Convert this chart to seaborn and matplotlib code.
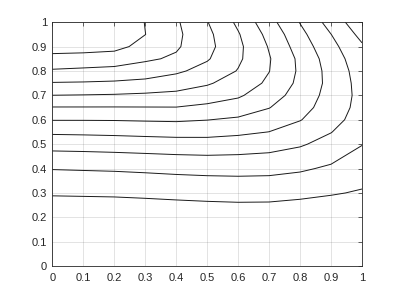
import numpy as np
import matplotlib
matplotlib.use("Agg")
import matplotlib.pyplot as plt
import seaborn as sns

# grid coordinates of the sampled field
x_grid = [0.0, 0.1, 0.2, 0.3, 0.4, 0.5, 0.6, 0.7, 0.8, 0.9, 1.0]
y_grid = [0.0, 0.1, 0.2, 0.3, 0.4, 0.5, 0.55, 0.6, 0.65, 0.7, 0.75, 0.8, 0.85, 0.9, 0.95, 1.0]

# field values (estimated), one list per row of y
z_y000 = [-1.50, -1.50, -1.48, -1.45, -1.40, -1.35, -1.32, -1.32, -1.40, -1.52, -1.70]
z_y010 = [-0.64, -0.63, -0.61, -0.57, -0.52, -0.47, -0.43, -0.44, -0.52, -0.65, -0.85]
z_y020 = [0.26, 0.27, 0.29, 0.33, 0.38, 0.43, 0.47, 0.46, 0.375, 0.25, 0.05]
z_y030 = [1.10, 1.12, 1.14, 1.19, 1.25, 1.30, 1.33, 1.32, 1.22, 1.08, 0.91]
z_y040 = [2.04, 2.075, 2.11, 2.17, 2.24, 2.29, 2.31, 2.28, 2.13, 1.86, 1.47]
z_y050 = [3.37, 3.40, 3.45, 3.51, 3.57, 3.60, 3.52, 3.39, 3.11, 2.65, 2.03]
z_y055 = [4.16, 4.19, 4.23, 4.29, 4.34, 4.32, 4.19, 3.99, 3.59, 3.03, 2.30]
z_y060 = [5.04, 5.04, 5.05, 5.09, 5.12, 5.02, 4.85, 4.52, 4.04, 3.39, 2.50]
z_y065 = [5.95, 5.95, 5.95, 5.96, 5.97, 5.78, 5.53, 5.03, 4.34, 3.56, 2.65]
z_y070 = [6.99, 6.96, 6.92, 6.84, 6.75, 6.48, 6.13, 5.44, 4.59, 3.64, 2.70]
z_y075 = [7.94, 7.91, 7.85, 7.73, 7.48, 7.11, 6.55, 5.83, 4.76, 3.71, 2.62]
z_y080 = [8.89, 8.80, 8.71, 8.51, 8.16, 7.66, 6.95, 6.02, 4.84, 3.65, 2.53]
z_y085 = [9.67, 9.60, 9.50, 9.15, 8.85, 8.09, 7.16, 6.07, 4.79, 3.51, 2.38]
z_y090 = [10.45, 10.42, 10.30, 9.67, 9.125, 8.29, 7.22, 5.93, 4.54, 3.29, 2.13]
z_y095 = [11.10, 11.00, 10.65, 10.01, 9.21, 8.23, 7.08, 5.70, 4.28, 3.01, 1.71]
z_y100 = [11.70, 11.50, 10.85, 9.97, 9.13, 8.04, 6.81, 5.35, 3.96, 2.61, 1.29]

contour_levels = [1, 2, 3, 4, 5, 6, 7, 8, 9, 10]

tick_values = [0, 0.1, 0.2, 0.3, 0.4, 0.5, 0.6, 0.7, 0.8, 0.9, 1]
tick_labels = ["0", "0.1", "0.2", "0.3", "0.4", "0.5", "0.6", "0.7", "0.8", "0.9", "1"]

sns.set_theme(style="white")
plt.rcParams["font.family"] = ["Liberation Sans", "DejaVu Sans"]

Z = np.array([z_y000, z_y010, z_y020, z_y030, z_y040, z_y050, z_y055, z_y060,
              z_y065, z_y070, z_y075, z_y080, z_y085, z_y090, z_y095, z_y100])
X, Y = np.meshgrid(x_grid, y_grid)

fig = plt.figure(figsize=(4, 3), dpi=100)
fig.patch.set_facecolor("white")
ax = fig.add_axes([0.131, 0.113, 0.774, 0.813])
ax.set_facecolor("white")

ax.contour(X, Y, Z, levels=contour_levels, colors="#1a1a1a", linewidths=0.7)

ax.set_xlim(0, 1)
ax.set_ylim(0, 1)
ax.set_xticks(tick_values)
ax.set_xticklabels(tick_labels)
ax.set_yticks(tick_values)
ax.set_yticklabels(tick_labels)

ax.grid(True, color="#262626", alpha=0.15, linewidth=0.6)
ax.set_axisbelow(True)
for sp in ax.spines.values():
    sp.set_visible(True)
    sp.set_color("#262626")
    sp.set_linewidth(0.6)
ax.tick_params(axis="both", direction="in", length=3, width=0.5, colors="#262626",
               labelsize=8, top=True, right=True, labelcolor="#262626")
ax.tick_params(axis="x", pad=5)
ax.tick_params(axis="y", pad=4)

fig.savefig("out.png", dpi=100, facecolor="white")
